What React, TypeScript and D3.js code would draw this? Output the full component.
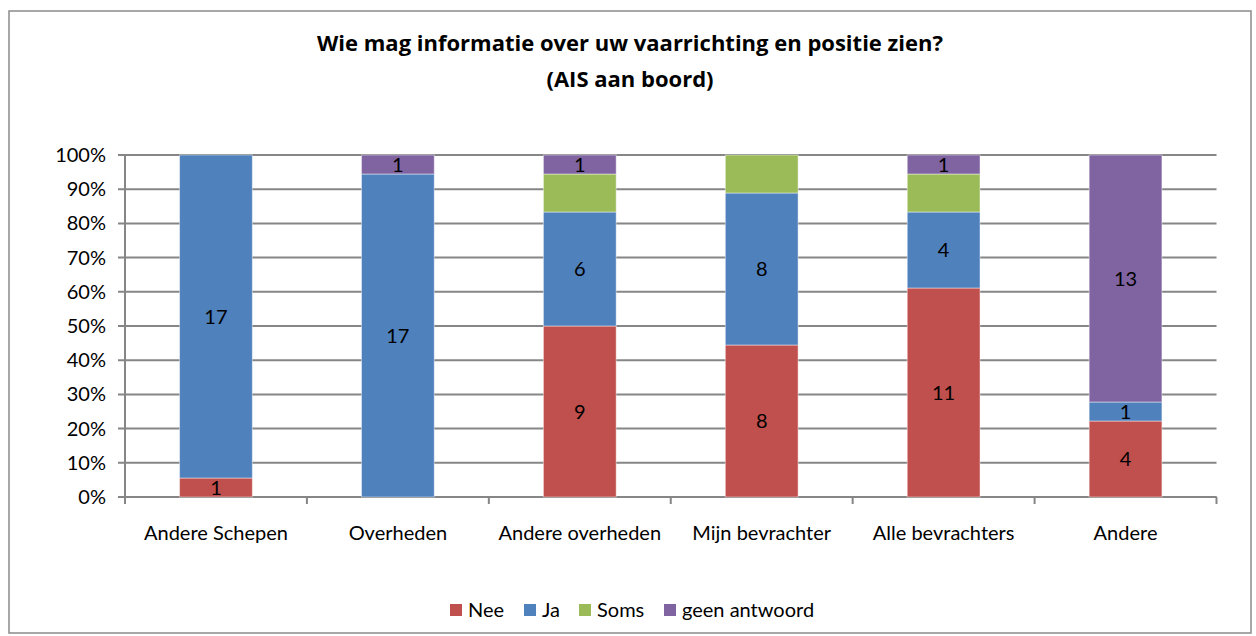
import React from 'react';
import * as d3 from 'd3';

const categories = ['Andere Schepen', 'Overheden', 'Andere overheden', 'Mijn bevrachter', 'Alle bevrachters', 'Andere'];
const seriesNames = ['Nee', 'Ja', 'Soms', 'geen antwoord'];
const nee = [1, 0, 9, 8, 11, 4];
const ja = [17, 17, 6, 8, 4, 1];
const soms = [0, 0, 2, 2, 2, 0];
const geenAntwoord = [0, 1, 1, 0, 1, 13];
const colors = ['#C0504D', '#4F81BD', '#9BBB59', '#8064A2'];
const labelledSeries = ['Nee', 'Ja', 'geen antwoord'];
const yTicks = [0, 0.1, 0.2, 0.3, 0.4, 0.5, 0.6, 0.7, 0.8, 0.9, 1];

const W = 1256;
const H = 636;
const font = 'Lato, "Open Sans", sans-serif';
const titleFont = '"Open Sans", Lato, sans-serif';

const App = () => {
  const left = 125;
  const right = 1216.5;
  const top = 155;
  const bottom = 497;

  const rows = categories.map((c, i) => ({
    cat: c,
    Nee: nee[i],
    Ja: ja[i],
    Soms: soms[i],
    'geen antwoord': geenAntwoord[i],
  }));

  const x = d3.scaleBand().domain(categories).range([left, right]).paddingInner(0.6).paddingOuter(0.3);
  const y = d3.scaleLinear().domain([0, 1]).range([bottom, top]);
  const stacked = d3.stack().keys(seriesNames).offset(d3.stackOffsetExpand)(rows as any);
  const step = x.step();
  const pct = d3.format('.0%');

  // legend layout (swatch x positions)
  const legendX = [450, 524, 579, 664];

  return (
    <svg width={W} height={H} style={{ position: 'absolute', left: 0, top: 0 }} fontFamily={font}>
      <rect x={0} y={0} width={W} height={H} fill="#fff" />
      <rect x={9} y={11} width={1242} height={622} fill="none" stroke="#8a8a8a" strokeWidth={1.5} />

      <text x={630} y={51} textAnchor="middle" fontSize={22} fontWeight="bold" fontFamily={titleFont} fill="#000">
        Wie mag informatie over uw vaarrichting en positie zien?
      </text>
      <text x={630} y={87} textAnchor="middle" fontSize={22} fontWeight="bold" fontFamily={titleFont} fill="#000">
        (AIS aan boord)
      </text>

      {/* gridlines and y axis */}
      {yTicks.map((t) => (
        <g key={t}>
          <line x1={118} x2={right} y1={y(t)} y2={y(t)} stroke="#868686" strokeWidth={2} />
          <text x={106} y={y(t)} dy="0.35em" textAnchor="end" fontSize={20} fill="#000">
            {pct(t)}
          </text>
        </g>
      ))}
      <line x1={left} x2={left} y1={top} y2={bottom + 7} stroke="#868686" strokeWidth={2} />
      <line x1={left} x2={right} y1={bottom} y2={bottom} stroke="#868686" strokeWidth={2} />
      {d3.range(categories.length + 1).map((i) => (
        <line key={i} x1={left + i * step} x2={left + i * step} y1={bottom} y2={bottom + 7} stroke="#868686" strokeWidth={2} />
      ))}

      {/* bars */}
      {stacked.map((s, si) => (
        <g key={s.key} fill={colors[si]}>
          {s.map((d, i) => {
            const v = (rows[i] as any)[s.key];
            if (!v) return null;
            const y0 = y(d[0]);
            const y1 = y(d[1]);
            return (
              <g key={i}>
                <rect x={x(categories[i])} y={y1} width={x.bandwidth()} height={y0 - y1} stroke="#ffffff" strokeOpacity={0.45} strokeWidth={1} />
                {labelledSeries.includes(s.key) && (
                  <text x={x(categories[i])! + x.bandwidth() / 2} y={(y0 + y1) / 2} dy="0.35em" textAnchor="middle" fontSize={20} fill="#000">
                    {v}
                  </text>
                )}
              </g>
            );
          })}
        </g>
      ))}

      {/* category labels */}
      {categories.map((c) => (
        <text key={c} x={x(c)! + x.bandwidth() / 2} y={533} dy="0.35em" textAnchor="middle" fontSize={20} fill="#000">
          {c}
        </text>
      ))}

      {/* legend */}
      {seriesNames.map((n, i) => (
        <g key={n}>
          <rect x={legendX[i]} y={604} width={12} height={12} fill={colors[i]} />
          <text x={legendX[i] + 18} y={610} dy="0.35em" fontSize={20} fill="#000">
            {n}
          </text>
        </g>
      ))}
    </svg>
  );
};

export default App;
